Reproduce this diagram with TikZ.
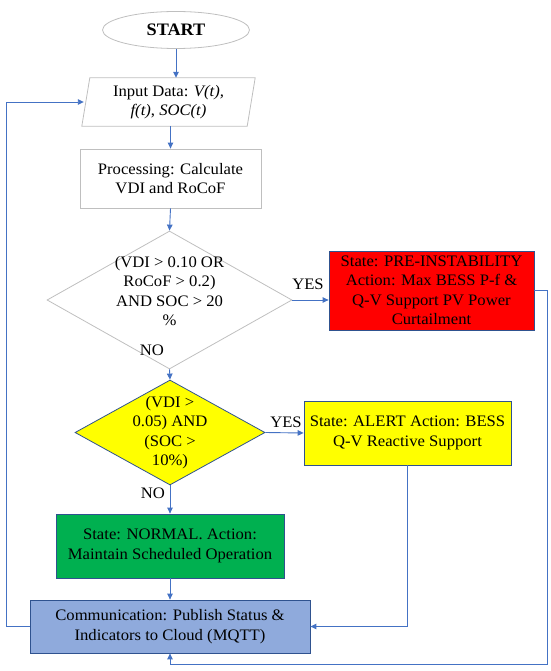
\documentclass[tikz,border=0pt]{standalone}
\usepackage{fontspec}
\setmainfont{Liberation Serif}[FakeStretch=1.04]
\usetikzlibrary{shapes.geometric,arrows.meta}
\definecolor{arrowblue}{HTML}{4472C4}
\definecolor{edgegray}{HTML}{BFBFBF}
\definecolor{darkedge}{HTML}{2F528F}
\definecolor{fillred}{HTML}{FF0000}
\definecolor{fillyellow}{HTML}{FFFF00}
\definecolor{fillgreen}{HTML}{00B050}
\definecolor{fillblue}{HTML}{8FAADC}
\tikzset{
  txt/.style={font=\fontsize{16}{19.5}\selectfont, align=center, inner sep=0pt},
  graybox/.style={txt, draw=edgegray, line width=0.8pt, rectangle},
  colbox/.style={txt, draw=darkedge, line width=0.8pt, rectangle},
  flow/.style={draw=arrowblue, line width=0.9pt, -{Triangle[length=6pt,width=5.5pt]}},
  lbl/.style={font=\fontsize{16}{18}\selectfont, inner sep=0pt}
}
\begin{document}
\begin{tikzpicture}[x=1pt,y=-1pt]
\useasboundingbox (0,0) rectangle (550,671);
% start
\node[ellipse, draw=edgegray, line width=0.8pt, minimum width=147pt, minimum height=37pt,
      font=\fontsize{17.5}{20}\selectfont\bfseries] (start) at (176,30) {START};
% input (parallelogram)
\node[txt, minimum width=165pt, minimum height=48pt] (input) at (168.5,102)
  {Input Data: \textit{V(t),}\\ \textit{f(t)}, \textit{SOC(t)}};
\draw[edgegray, line width=0.8pt] ([xshift=4pt]input.north west) -- ([xshift=4pt]input.north east)
  -- ([xshift=-4pt]input.south east) -- ([xshift=-4pt]input.south west) -- cycle;
% processing
\node[graybox, minimum width=181pt, minimum height=59pt] (proc) at (170.5,178.5)
  {Processing: Calculate\\ VDI and RoCoF};
% decision 1
\node[diamond, draw=edgegray, line width=0.8pt, minimum width=245pt, minimum height=138pt, inner sep=0pt] (d1) at (169.5,300) {};
\node[txt] (d1text) at ([yshift=9pt]d1.center) {(VDI > 0.10 OR\\ RoCoF > 0.2)\\ AND SOC > 20\\ \%};
% red box
\node[colbox, fill=fillred, minimum width=205pt, minimum height=79pt] (red) at (431.5,290.5)
  {State: PRE-INSTABILITY\\ Action: Max BESS P-f \&\\ Q-V Support PV Power\\ Curtailment};
% decision 2
\node[diamond, draw=darkedge, fill=fillyellow, line width=0.8pt, minimum width=190pt, minimum height=105pt, inner sep=0pt] (d2) at (170,432.5) {};
\node[txt] (d2text) at (d2.center) {(VDI >\\ 0.05) AND\\ (SOC >\\ 10\%)};
% yellow box
\node[colbox, fill=fillyellow, minimum width=207pt, minimum height=64pt] (yel) at (407.5,433)
  {State: ALERT Action: BESS\\ Q-V Reactive Support};
% green box
\node[colbox, fill=fillgreen, minimum width=228pt, minimum height=64pt] (green) at (170,546)
  {State: NORMAL. Action:\\ Maintain Scheduled Operation};
% communication
\node[colbox, fill=fillblue, minimum width=280pt, minimum height=53pt] (comm) at (170,626.5)
  {Communication: Publish Status \&\\ Indicators to Cloud (MQTT)};
% labels
\node[lbl] (yes1) at (308,284) {YES};
\node[lbl] (no1) at (152,350) {NO};
\node[lbl] (yes2) at (286,422) {YES};
\node[lbl] (no2) at (153,493) {NO};
% connectors
\draw[flow] (start.south) -- (start.south |- input.north);
\draw[flow] (proc.north |- input.south) -- (proc.north);
\draw[flow] (proc.south) -- (d1.north);
\draw[flow] (d1.east) -- (d1.east -| red.west);
\draw[flow] (d1.south) -- (d2.north);
\draw[flow] (d2.east) -- (yel.west);
\draw[flow] (d2.south) -- (green.north);
\draw[flow] (green.south) -- (comm.north);
\coordinate (rr1) at (547,290.5);
\coordinate (rr2) at (547,664);
\coordinate (rr3) at (170,664);
\draw[flow] (red.east) -- (rr1) -- (rr2) -- (rr3) -- (comm.south);
\coordinate (yy1) at (407.5,626.5);
\draw[flow] (yel.south) -- (yy1) -- (comm.east);
\coordinate (ll1) at (6,626.5);
\coordinate (ll2) at (6,102);
\draw[flow] (comm.west) -- (ll1) -- (ll2) -- ([xshift=-2pt]input.west);
\end{tikzpicture}
\end{document}
